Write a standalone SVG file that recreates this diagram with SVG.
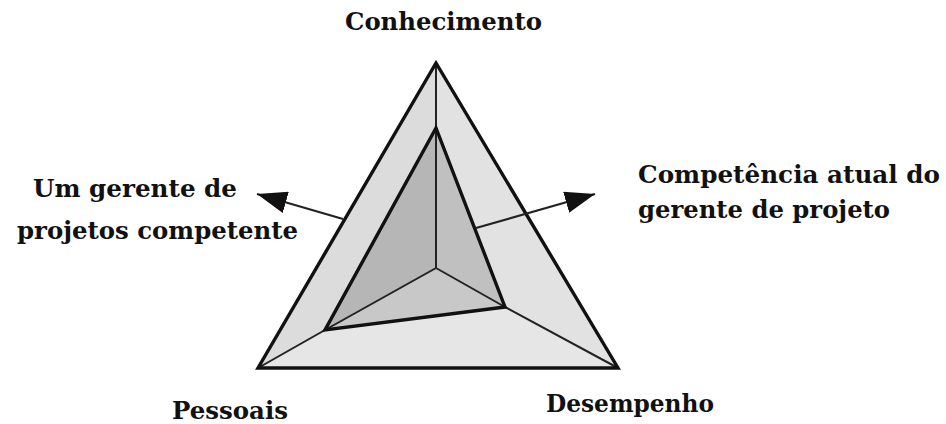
<svg xmlns="http://www.w3.org/2000/svg" width="946" height="424" viewBox="0 0 946 424">
<style>
.lbl{font-family:"DejaVu Serif","Liberation Serif",serif;font-weight:bold;font-size:24px;fill:#111}
.thick{fill:none;stroke:#111;stroke-width:3.4;stroke-linejoin:miter}
.thin{fill:none;stroke:#222;stroke-width:2}
.conn{stroke:#222;stroke-width:2.2;fill:none}
</style>
<defs>
<marker id="ah2" viewBox="0 0 30 22" refX="30" refY="11" markerWidth="30" markerHeight="22" markerUnits="userSpaceOnUse" orient="auto">
<path d="M0,0 L30,11 L0,22 z" fill="#111"/>
</marker>
</defs>
<rect width="946" height="424" fill="#ffffff"/>
<g id="triangle">
<polygon points="436,63 258,368 325,330 436,128" fill="#dcdcdc"/>
<polygon points="436,63 436,128 505,307 618,368" fill="#e2e2e2"/>
<polygon points="258,368 618,368 505,307 325,330" fill="#e6e6e6"/>
<polygon points="436,128 436,268 325,330" fill="#b6b6b6"/>
<polygon points="436,128 505,307 436,268" fill="#c0c0c0"/>
<polygon points="436,268 505,307 325,330" fill="#c8c8c8"/>
<path class="thin" d="M436,63 L436,268 L325,330 M436,268 L505,307 M325,330 L258,368 M505,307 L618,368"/>
<polygon class="thick" points="436,128 505,307 325,330"/>
<polygon class="thick" points="436,63 618,368 258,368"/>
</g>
<g id="connectors">
<line class="conn" x1="343" y1="219" x2="257" y2="194" marker-end="url(#ah2)"/>
<line class="conn" x1="476" y1="228" x2="595" y2="194" marker-end="url(#ah2)"/>
</g>
<g id="n-conhecimento"><text class="lbl" x="345" y="30" textLength="197" lengthAdjust="spacingAndGlyphs">Conhecimento</text></g>
<g id="n-pessoais"><text class="lbl" x="172" y="419" textLength="116" lengthAdjust="spacingAndGlyphs">Pessoais</text></g>
<g id="n-desempenho"><text class="lbl" x="546" y="412" textLength="168" lengthAdjust="spacingAndGlyphs">Desempenho</text></g>
<g id="n-ideal"><text class="lbl" x="33" y="197" textLength="204" lengthAdjust="spacingAndGlyphs">Um gerente de</text><text class="lbl" x="17" y="239" textLength="281" lengthAdjust="spacingAndGlyphs">projetos competente</text></g>
<g id="n-atual"><text class="lbl" x="638" y="183" textLength="302" lengthAdjust="spacingAndGlyphs">Competência atual do</text><text class="lbl" x="638" y="218" textLength="252" lengthAdjust="spacingAndGlyphs">gerente de projeto</text></g>
</svg>
